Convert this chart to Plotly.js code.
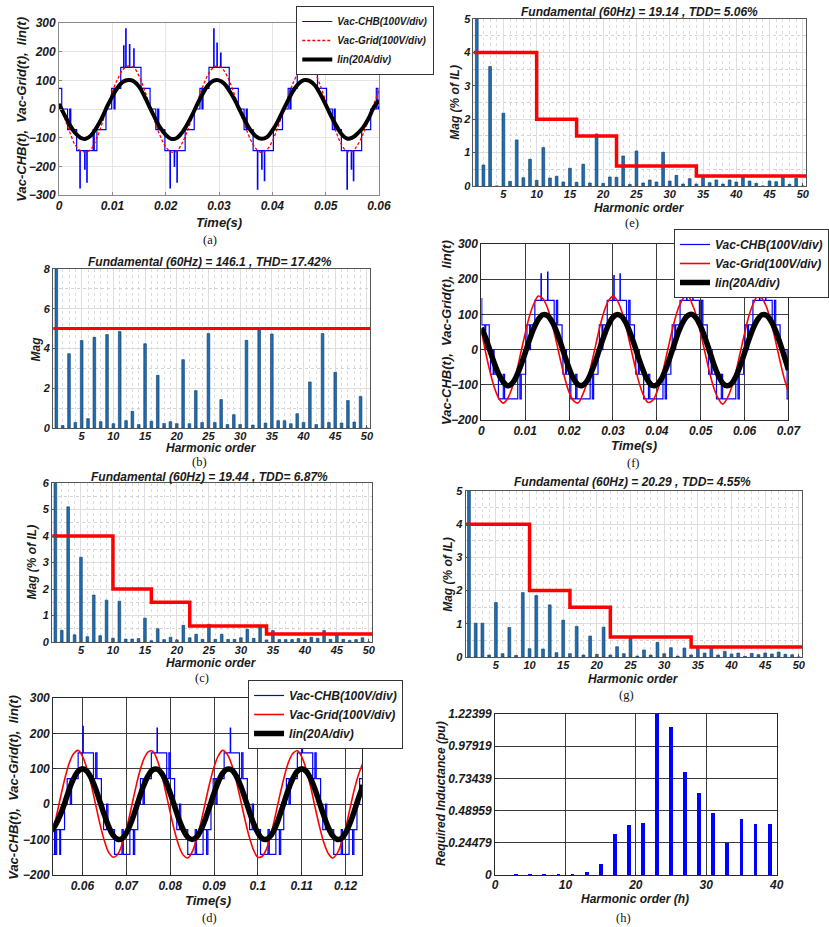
<!DOCTYPE html>
<html><head><meta charset="utf-8">
<script src="https://cdn.plot.ly/plotly-3.0.1.min.js"></script>
<style>body{margin:0;background:#fff}#chart{width:829px;height:927px}</style>
</head><body><div id="chart"></div>
<script>
// ---------------- DATA ----------------
// (a) waveforms, samples every 1 ms from t=0
const iinA = [17,-20,-55,-83,-100,-104,-92,-66,-33,8,44,75,95,101,97,78,45,6,-32,-66,-90,-104,-102,-84,-55,-20,20,55,84,99,100,88,62,30,-8,-45,-76,-96,-104,-98,-75,-44,-6,32,66,90,101,98,82,52,15,-24,-58,-88,-103,-100,-85,-65,-35,5,30];
const gridA = [20,-30,-80,-125,-145,-150,-140,-105,-55,5,60,105,138,150,145,115,68,12,-45,-95,-132,-150,-148,-122,-80,-28,28,80,122,145,150,132,95,45,-12,-65,-110,-140,-152,-142,-112,-65,-10,45,95,132,150,148,125,82,28,-30,-82,-125,-148,-148,-125,-88,-40,15,65];
const chbTA = [0,0.0005,0.0016,0.0020,0.0022,0.0033,0.0039,0.00398,0.0048,0.00488,0.0052,0.00528,0.0064,0.0066,0.0071,0.0088,
 0.00987,0.0103,0.0105,0.01157,0.0121,0.01218,0.0125,0.01258,0.0132,0.01328,0.0140,0.01408,0.01537,0.01707,
 0.01815,0.0185,0.0187,0.01985,0.0208,0.02088,0.0216,0.02168,0.0221,0.02218,0.02365,0.02535,
 0.02642,0.0268,0.0270,0.02812,0.0290,0.02908,0.0296,0.02968,0.0303,0.03038,0.03192,0.03362,
 0.0347,0.0351,0.0353,0.0364,0.0372,0.03728,0.0380,0.03808,0.0385,0.03858,0.0402,0.0419,
 0.04297,0.0433,0.0435,0.04467,0.0455,0.04558,0.0462,0.04628,0.0467,0.04678,0.04847,0.05017,
 0.05125,0.0516,0.0518,0.05295,0.0540,0.05408,0.0548,0.05488,0.0552,0.05528,0.05675,0.05845,0.0595,0.0598,0.0600];
const chbVA = [72,0,-72,0,-72,-145,-275,-145,-210,-145,-255,-145,-72,-145,-72,0,
 72,0,72,145,220,145,280,145,225,145,210,145,72,0,
 -72,0,-72,-145,-275,-145,-200,-145,-255,-145,-72,0,
 72,0,72,145,280,145,230,145,195,145,72,0,
 -72,0,-72,-145,-280,-145,-210,-145,-250,-145,-72,0,
 72,0,72,145,235,145,270,145,215,145,72,0,
 -72,0,-72,-145,-280,-145,-210,-145,-250,-145,-72,0,72,0,10];

// (d) waveforms, samples every 1 ms from t=0.053
const iinD = [-75,-55,-28,6,43,73,93,100,93,73,43,6,-31,-64,-88,-99,-97,-81,-54,-19,19,54,81,97,99,88,65,31,-6,-43,-73,-93,-100,-93,-73,-43,-6,31,64,88,99,97,81,54,19,-19,-54,-81,-97,-99,-88,-65,-31,6,43,73,93,100,93,73,43,6,-31,-64,-88,-99,-97,-81,-54,-19,19,54];
const gridD = [-87,-36,21,74,117,143,152,135,101,54,-2,-57,-104,-137,-150,-142,-114,-71,-17,39,90,128,148,150,126,86,33,-23,-76,-118,-144,-152,-135,-100,-52,4,59,105,137,152,141,113,69,15,-41,-91,-129,-150,-147,-125,-84,-31,25,77,119,144,151,134,99,51,-6,-60,-107,-138,-152,-141,-112,-68,-13,42,85,118];
const chbTD = [0.0533,0.0536,0.0538,0.0541,0.0548,0.0550,0.0559,0.0565,0.0572,0.0575,0.0590,0.0601,0.06018,0.0625,0.0630,0.0633,0.0643,
 0.0648,0.0655,0.0658,0.0673,0.0690,0.0693,0.0708,0.0716,0.0719,0.0726,
 0.0732,0.0738,0.0741,0.0757,0.0770,0.07708,0.0792,0.0797,0.0800,0.0810,
 0.0815,0.0821,0.0824,0.0840,0.0857,0.0860,0.0875,0.0883,0.0886,0.0893,
 0.0898,0.0904,0.0907,0.0923,0.0937,0.09378,0.0958,0.0963,0.0966,0.0976,
 0.0981,0.0987,0.0990,0.1006,0.1023,0.1026,0.1041,0.1049,0.1052,0.1059,
 0.1065,0.1071,0.1074,0.1090,0.1101,0.11018,0.1125,0.1130,0.1133,0.1143,
 0.1148,0.1154,0.1157,0.1173,0.1190,0.1193,0.1208,0.1216,0.1219,0.1226,0.1232,0.1238];
const chbVD = [-142,-72,-142,-72,-142,-72,0,72,0,72,145,220,145,72,145,72,0,
 -72,0,-72,-142,-72,-142,-72,-142,-72,0,
 72,0,72,145,215,145,72,145,72,0,
 -72,0,-72,-142,-72,-142,-72,-142,-72,0,
 72,0,72,145,215,145,72,145,72,0,
 -72,0,-72,-142,-72,-142,-72,-142,-72,0,
 72,0,72,145,190,145,72,145,72,0,
 -72,0,-72,-142,-72,-142,-72,-142,-72,0,72,72];

// (f) waveforms, samples every 1 ms from t=0
const iinF = [62,33,-4,-40,-71,-92,-103,-96,-76,-45,-9,29,62,86,99,97,82,56,21,-17,-53,-82,-99,-102,-91,-66,-34,4,40,71,92,100,94,75,45,9,-29,-63,-89,-102,-100,-84,-57,-22,16,52,79,96,100,89,66,33,-4,-42,-73,-95,-103,-97,-77,-46,-9,29,62,86,99,97,82,56,21,-17,-58];
const gridF = [55,-9,-64,-109,-139,-152,-139,-109,-64,-9,46,96,131,152,145,121,80,28,-28,-80,-121,-145,-152,-131,-97,-46,9,64,109,139,152,139,109,64,9,-46,-96,-131,-150,-145,-121,-80,-28,28,80,121,145,156,131,97,46,-9,-64,-109,-139,-155,-139,-109,-64,-9,46,96,131,152,145,121,80,28,-28,-80,-121];
const chbTF = [0,0.0001,0.0008,0.0010,0.0018,0.0021,0.0027,0.0029,0.0039,0.0050,0.0053,0.0083,0.0088,0.0091,0.0101,
 0.0104,0.0110,0.0112,0.0122,0.0136,0.01368,0.0151,0.01518,0.0166,0.0171,0.0174,0.0184,
 0.0186,0.0192,0.0194,0.0204,0.0215,0.0218,0.0248,0.0253,0.0256,0.0266,
 0.0269,0.0275,0.0277,0.0287,0.0302,0.03028,0.0316,0.03168,0.0331,0.0336,0.0339,0.0349,
 0.0352,0.0358,0.0360,0.0370,0.0381,0.0384,0.0414,0.0419,0.0422,0.0432,
 0.0435,0.0441,0.0443,0.0453,0.0468,0.04688,0.0482,0.04828,0.0497,0.0502,0.0505,0.0515,
 0.0518,0.0524,0.0526,0.0536,0.0547,0.0550,0.0580,0.0585,0.0588,0.0598,
 0.0601,0.0607,0.0609,0.0619,0.0634,0.06348,0.0648,0.06488,0.0663,0.0668,0.0671,0.0681,0.0697,0.0700];
const chbVF = [145,70,0,70,0,-70,0,-70,-140,-70,-140,-70,-140,-70,0,
 70,0,70,140,215,140,220,140,70,140,70,0,
 -70,0,-70,-140,-70,-140,-70,-140,-70,0,
 70,0,70,140,210,140,215,140,70,140,70,0,
 -70,0,-70,-140,-70,-140,-70,-140,-70,0,
 70,0,70,140,200,140,190,140,70,140,70,0,
 -70,0,-70,-140,-70,-140,-70,-140,-70,0,
 70,0,70,140,185,140,190,140,70,140,70,0,-140,-140];

// harmonic spectra
const harmonics = [1,2,3,4,5,6,7,8,9,10,11,12,13,14,15,16,17,18,19,20,21,22,23,24,25,26,27,28,29,30,31,32,33,34,35,36,37,38,39,40,41,42,43,44,45,46,47,48,49,50];
const magB = [146.1,0.12,3.74,0.28,4.4,0.47,4.56,0.32,4.7,0.22,4.85,0.37,0.84,0.17,4.24,0.34,2.65,0.23,0.32,0.22,3.44,0.22,1.88,0.28,4.75,0.28,1.43,0.17,0.67,0.17,4.41,0.15,4.95,0.25,4.73,0.37,0.37,0.22,0.72,0.28,2.32,0.17,4.75,0.28,2.8,0.25,1.38,0.3,1.59,0];
const magC = [100,0.44,5.1,0.27,3.2,0.2,1.77,0.24,1.58,0.14,1.54,0.11,0.11,0.13,0.9,0.05,0.5,0.09,0.18,0.08,0.63,0.16,0.29,0.1,0.67,0.1,0.29,0.1,0.1,0.16,0.48,0.14,0.57,0.08,0.43,0.09,0.09,0.09,0.13,0.1,0.18,0.14,0.43,0.1,0.29,0.1,0.06,0.09,0.16,0];
const magE = [100,0.63,3.58,0,2.18,0.14,1.38,0.25,0.8,0.17,1.15,0.24,0.29,0.12,0.53,0.11,0.65,0.09,1.56,0.08,0.27,0.26,0.9,0.05,1.05,0.09,0.18,0.12,1.01,0.15,0.32,0.06,0.22,0.06,0.26,0.1,0.18,0.06,0.18,0.12,0.3,0.15,0.08,0,0.15,0.13,0.28,0.05,0.23,0];
const magG = [100,1.02,1.02,0.06,1.64,0.1,0.89,0.05,1.94,0.25,1.85,0.24,1.57,0.13,1.11,0.1,0.92,0.06,0.63,0.08,0.9,0.06,0.31,0.1,0.62,0.03,0.21,0.06,0.44,0.1,0.28,0.03,0.27,0.06,0.26,0.12,0.32,0.06,0.17,0.09,0.12,0.02,0.11,0.07,0.12,0.09,0.15,0.08,0.07,0];
const limitBX = [0.5,50.5], limitBY = [5,5];
const limitX = [0.5,10,10,16,16,22,22,34,34,50.5];
const limitY = [4,4,2,2,1.5,1.5,0.6,0.6,0.3,0.3];

// (h) required inductance
const harmonicsH = [3,5,7,9,11,13,15,17,19,21,23,25,27,29,31,33,35,37,39];
const indH = [0.008,0.008,0.008,0.008,0.008,0.023,0.086,0.312,0.38,0.395,1.224,1.125,0.783,0.623,0.471,0.243,0.426,0.388,0.388];
const indTicks = [0,0.24479,0.48959,0.73439,0.97919,1.22399];
const indTickText = ['0','0.24479','0.48959','0.73439','0.97919','1.22399'];

const timeTicksA = [0,0.01,0.02,0.03,0.04,0.05,0.06], timeTextA = ['0','0.01','0.02','0.03','0.04','0.05','0.06'];
const timeTicksD = [0.06,0.07,0.08,0.09,0.1,0.11,0.12], timeTextD = ['0.06','0.07','0.08','0.09','0.1','0.11','0.12'];
const timeTicksF = [0,0.01,0.02,0.03,0.04,0.05,0.06,0.07], timeTextF = ['0','0.01','0.02','0.03','0.04','0.05','0.06','0.07'];
const harmTicks = [5,10,15,20,25,30,35,40,45,50];

// ---------------- LAYOUT HELPERS ----------------
const W = 829, H = 927;
const FF = 'Liberation Sans, Arial, sans-serif';
function xd(a,b){return [a/W,b/W];}
function yd(a,b){return [1-b/H,1-a/H];}
function tf(size){return {family:FF,size:size,color:'#1a1a1a',weight:'bold',style:'italic'};}
function baseAx(domain, anchor, range, gridColor, lineColor, size){
  return {domain:domain, anchor:anchor, range:range, showgrid:true, gridcolor:gridColor, gridwidth:1,
    zeroline:false, showline:true, mirror:true, linecolor:lineColor, linewidth:1,
    ticks:'inside', ticklen:3, tickcolor:lineColor, tickfont:tf(size), fixedrange:true};
}
function barX(domain, anchor){
  const a = baseAx(domain, anchor, [0.5,50.5], '#dedede', '#555', 11);
  a.tickvals = harmTicks; a.ticktext = harmTicks.map(String);
  a.ticklabelstandoff = -2;
  a.minor = {dtick:1, tick0:0, showgrid:true, gridcolor:'#dcdcdc', griddash:'dot', gridwidth:1};
  return a;
}
function barY(domain, anchor, top, dt, mdt){
  const a = baseAx(domain, anchor, [0,top], '#dedede', '#555', 11);
  a.dtick = dt; a.tick0 = 0;
  a.minor = {dtick:mdt, tick0:0, showgrid:true, gridcolor:'#d4d4d4', griddash:'dot', gridwidth:1};
  return a;
}

// ---------------- TRACES ----------------
const traces = [];
function waves(xa, ya, leg, chbT, chbV, gridV, gridX0, grid, iinV, iinW, showLeg){
  traces.push({type:'scatter', mode:'lines', x:chbT, y:chbV, xaxis:xa, yaxis:ya, line:{color:'#0000ff', width:1.2, shape:'hv'},
    name:'Vac-CHB(100V/div)', legend:leg, showlegend:showLeg, hoverinfo:'skip'});
  traces.push({type:'scatter', mode:'lines', x0:gridX0, dx:0.001, y:gridV, xaxis:xa, yaxis:ya,
    line:Object.assign({color:'#ff0000', shape:'spline'}, grid),
    name:'Vac-Grid(100V/div)', legend:leg, showlegend:showLeg, hoverinfo:'skip'});
  traces.push({type:'scatter', mode:'lines', x0:gridX0, dx:0.001, y:iinV, xaxis:xa, yaxis:ya,
    line:{color:'#000000', width:iinW, shape:'spline'},
    name:'Iin(20A/div)', legend:leg, showlegend:showLeg, hoverinfo:'skip'});
}
waves('x','y','legend',chbTA,chbVA,gridA,0,{width:1.3,dash:'3px,2px'},iinA,4,true);
waves('x4','y4','legend2',chbTD,chbVD,gridD,0.053,{width:1.6},iinD,5.5,true);
waves('x6','y6','legend3',chbTF,chbVF,gridF,0,{width:1.6},iinF,5.5,true);

function spectrum(xa, ya, mag, lx, ly, lw){
  traces.push({type:'bar', x:harmonics, y:mag, xaxis:xa, yaxis:ya, width:0.42,
    marker:{color:'#1f6db0', line:{color:'#0d3b66', width:0.6}}, showlegend:false, hoverinfo:'skip'});
  traces.push({type:'scatter', mode:'lines', x:lx, y:ly, xaxis:xa, yaxis:ya,
    line:{color:'#ff0000', width:lw}, showlegend:false, hoverinfo:'skip'});
}
spectrum('x2','y2',magB,limitBX,limitBY,3);
spectrum('x3','y3',magC,limitX,limitY,3.5);
spectrum('x5','y5',magE,limitX,limitY,3.5);
spectrum('x7','y7',magG,limitX,limitY,3.5);

traces.push({type:'bar', x:harmonicsH, y:indH, xaxis:'x8', yaxis:'y8', width:0.55,
  marker:{color:'#0000ff', line:{width:0}}, showlegend:false, hoverinfo:'skip'});

// ---------------- AXES ----------------
const layout = {width:W, height:H, margin:{l:0,r:0,t:0,b:0}, paper_bgcolor:'#fff', plot_bgcolor:'#fff',
  showlegend:true, bargap:0, annotations:[]};

layout.xaxis = Object.assign(baseAx(xd(60,385),'y',[0,0.06],'#e4e4e4','#8a8a8a',12), {tickvals:timeTicksA, ticktext:timeTextA});
layout.yaxis = Object.assign(baseAx(yd(23,195),'x',[-300,300],'#e4e4e4','#8a8a8a',12), {dtick:100, tick0:0});
layout.xaxis2 = barX(xd(54,376),'y2');
layout.yaxis2 = barY(yd(269,428),'x2',8,2,1);
layout.xaxis3 = barX(xd(53,378),'y3');
layout.yaxis3 = barY(yd(483,642),'x3',6,1,0.5);
layout.xaxis4 = Object.assign(baseAx(xd(54,368),'y4',[0.0533,0.1238],'#3c3c3c','#2a2a2a',12), {tickvals:timeTicksD, ticktext:timeTextD});
layout.yaxis4 = Object.assign(baseAx(yd(698,875),'x4',[-200,300],'#3c3c3c','#2a2a2a',12), {dtick:100, tick0:0});
layout.xaxis5 = barX(xd(481,819),'y5');
layout.yaxis5 = barY(yd(19,186),'x5',5,1,0.5);
layout.xaxis6 = Object.assign(baseAx(xd(489,801),'y6',[0,0.07],'#3c3c3c','#2a2a2a',12), {tickvals:timeTicksF, ticktext:timeTextF});
layout.yaxis6 = Object.assign(baseAx(yd(244,420),'x6',[-200,300],'#3c3c3c','#2a2a2a',12), {dtick:100, tick0:0});
layout.xaxis7 = barX(xd(473,815),'y7');
layout.yaxis7 = barY(yd(491,657),'x7',5,1,0.5);
layout.xaxis8 = Object.assign(baseAx(xd(503,789),'y8',[0,40],'#3c3c3c','#2a2a2a',12), {dtick:10, tick0:0, ticklabelstandoff:-1});
layout.yaxis8 = Object.assign(baseAx(yd(714,875),'x8',[0,1.22399],'#3c3c3c','#2a2a2a',12), {tickvals:indTicks, ticktext:indTickText});

// ---------------- LEGENDS ----------------
function leg(px, py, size){
  return {x:px/W, y:1-py/H, xanchor:'left', yanchor:'top', bgcolor:'#ffffff', bordercolor:'#333', borderwidth:1,
    font:tf(size), tracegroupgap:0, itemwidth:30};
}
layout.legend = leg(301,6,10);
layout.legend2 = leg(252,680,12);
layout.legend3 = leg(685,229,12);

// ---------------- TEXT ----------------
function ann(text, px, py, size, opts){
  layout.annotations.push(Object.assign({text:text, x:px/W, y:1-py/H, xref:'paper', yref:'paper',
    xanchor:'center', yanchor:'middle', showarrow:false, borderpad:0, font:{family:FF, size:size, color:'#1a1a1a'}}, opts||{}));
}
function bi(s){return '<b><i>'+s+'</i></b>';}
const ytw = 'Vac-CHB(t),  Vac-Grid(t),  Iin(t)';
ann(bi(ytw), 22, 109, 13, {textangle:-90});
ann(bi(ytw), 13, 787, 13, {textangle:-90});
ann(bi(ytw), 453, 332, 13, {textangle:-90});
ann(bi('Mag'), 37, 349, 12, {textangle:-90});
ann(bi('Mag (% of IL)'), 33, 562, 12, {textangle:-90});
ann(bi('Mag (% of IL)'), 462, 102, 12, {textangle:-90});
ann(bi('Mag (% of IL)'), 455, 574, 12, {textangle:-90});
ann(bi('Required Inductance (pu)'), 448, 793, 12, {textangle:-90});

ann(bi('Time(s)'), 222, 222, 13);
ann(bi('Time(s)'), 211, 900, 13);
ann(bi('Time(s)'), 644, 445, 13);
ann(bi('Harmonic order'), 215, 448, 12);
ann(bi('Harmonic order'), 215, 663, 12);
ann(bi('Harmonic order'), 650, 208, 12);
ann(bi('Harmonic order'), 644, 679, 12);
ann(bi('Harmonic order (h)'), 645, 899, 12);

ann(bi('Fundamental (60Hz) = 146.1 , THD= 17.42%'), 213, 262, 12);
ann(bi('Fundamental (60Hz) = 19.44 , TDD= 6.87%'), 213, 477, 12);
ann(bi('Fundamental (60Hz) = 19.14 , TDD= 5.06%'), 650, 12, 12);
ann(bi('Fundamental (60Hz) = 20.29 , TDD= 4.55%'), 643, 482, 12);

const capFont = 'Liberation Serif, Times New Roman, serif';
[['(a)',213,240],['(b)',203,462],['(c)',205,678],['(d)',213,918],['(e)',642,223],['(f)',644,463],['(g)',636,695],['(h)',633,918]]
  .forEach(c => ann(c[0], c[1], c[2], 12, {font:{family:capFont, size:12.5, color:'#111'}}));

Plotly.newPlot('chart', traces, layout, {staticPlot:true, displayModeBar:false});
</script></body></html>
